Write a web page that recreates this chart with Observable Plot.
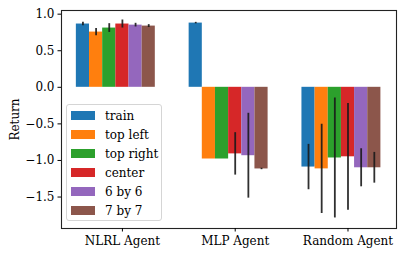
<!DOCTYPE html>
<html>
<head>
<meta charset="utf-8">
<script src="https://cdn.jsdelivr.net/npm/d3@7"></script>
<script src="https://cdn.jsdelivr.net/npm/@observablehq/plot@0.6"></script>
<style>
  html, body { margin: 0; padding: 0; background: white; }
  #wrap { position: relative; width: 405px; height: 255px; font-family: "DejaVu Serif", serif; }
  #legend { position: absolute; left: 66px; top: 104px; width: 96px; height: 117px;
    border: 1px solid #d5d5d5; border-radius: 3px; background: rgba(255,255,255,0.8); box-sizing: border-box; }
  .row { position: absolute; left: 0; height: 19px; display: flex; align-items: center; font-size: 12px; color: #000; white-space: nowrap; }
  .sw { width: 24px; height: 9px; margin-left: 4px; margin-right: 10px; }
</style>
</head>
<body>
<div id="wrap"></div>
<script>
const agents = ["NLRL Agent", "MLP Agent", "Random Agent"];
const series = ["train", "top left", "top right", "center", "6 by 6", "7 by 7"];
const colors = ["#1f77b4", "#ff7f0e", "#2ca02c", "#d62728", "#9467bd", "#8c564b"];

const trainMean    = [0.865, 0.878, -1.09];
const topLeftMean  = [0.755, -0.98, -1.115];
const topRightMean = [0.81, -0.98, -0.966];
const centerMean   = [0.865, -0.91, -0.95];
const six6Mean     = [0.85, -0.935, -1.10];
const seven7Mean   = [0.837, -1.116, -1.10];

const trainErr    = [0.025, 0.01, 0.31];
const topLeftErr  = [0.05, 0.0, 0.61];
const topRightErr = [0.06, 0.0, 0.82];
const centerErr   = [0.055, 0.29, 0.73];
const six6Err     = [0.025, 0.58, 0.26];
const seven7Err   = [0.02, 0.01, 0.21];

const yTicks = [-1.5, -1.0, -0.5, 0.0, 0.5, 1.0];

const means = [trainMean, topLeftMean, topRightMean, centerMean, six6Mean, seven7Mean];
const errs = [trainErr, topLeftErr, topRightErr, centerErr, six6Err, seven7Err];
const w = 0.7 / 6;

const rows = [];
series.forEach((s, si) => {
  agents.forEach((a, ai) => {
    rows.push({
      series: s, agent: a, si, ai,
      x1: ai + (si - 3.5) * w, x2: ai + (si - 2.5) * w, xc: ai + (si - 3) * w,
      v: means[si][ai], e: errs[si][ai]
    });
  });
});

const chart = Plot.plot({
  width: 405, height: 255,
  marginLeft: 61, marginRight: 9, marginTop: 10, marginBottom: 27,
  style: { fontFamily: "DejaVu Serif", fontSize: "12px", background: "white", color: "#000" },
  x: { type: "linear", domain: [-0.54, 2.43] },
  y: { domain: [-1.93, 1.05] },
  color: { domain: series, range: colors },
  marks: [
    Plot.rect(rows, { x1: "x1", x2: "x2", y1: 0, y2: "v", fill: "series" }),
    Plot.ruleX(rows.filter(d => d.e > 0), { x: "xc", y1: d => d.v - d.e, y2: d => d.v + d.e, stroke: "#1a1a1a", strokeOpacity: 0.9, strokeWidth: 1.8 }),
    Plot.frame({ stroke: "#222", strokeWidth: 1.1 }),
    Plot.axisY(yTicks, { tickSize: 3.5, tickPadding: 3.5, tickFormat: d3.format(".1f"), label: "Return", labelAnchor: "center", labelArrow: "none", labelOffset: 51, fontSize: 12, stroke: "#000" }),
    Plot.axisX([0, 1, 2], { tickSize: 3.5, tickPadding: 4, tickFormat: i => agents[i], label: null, fontSize: 12 })
  ]
});
const wrap = document.getElementById("wrap");
wrap.appendChild(chart);

const leg = document.createElement("div");
leg.id = "legend";
series.forEach((s, i) => {
  const r = document.createElement("div");
  r.className = "row";
  r.style.top = (1 + i * 19) + "px";
  const sw = document.createElement("div");
  sw.className = "sw";
  sw.style.background = colors[i];
  const t = document.createElement("span");
  t.textContent = s;
  r.appendChild(sw); r.appendChild(t);
  leg.appendChild(r);
});
wrap.appendChild(leg);
</script>
</body>
</html>
